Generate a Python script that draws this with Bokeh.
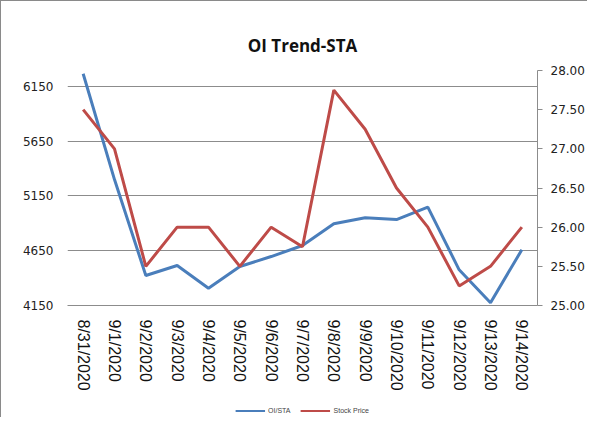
from bokeh.plotting import figure
from bokeh.layouts import column
from bokeh.models import Range1d, LinearAxis, FixedTicker, Legend, LegendItem, ColumnDataSource, NumeralTickFormatter
from bokeh.embed import file_html
from bokeh.resources import INLINE

dates = ["8/31/2020", "9/1/2020", "9/2/2020", "9/3/2020", "9/4/2020", "9/5/2020", "9/6/2020",
         "9/7/2020", "9/8/2020", "9/9/2020", "9/10/2020", "9/11/2020", "9/12/2020", "9/13/2020", "9/14/2020"]
oi_sta = [6266, 5300, 4424, 4515, 4308, 4506, 4597, 4698, 4896, 4951, 4935, 5048, 4476, 4175, 4659]
stock_price = [27.5, 27.0, 25.5, 26.0, 26.0, 25.5, 26.0, 25.75, 27.75, 27.25, 26.5, 26.0, 25.25, 25.5, 26.0]
left_ticks = [4150, 4650, 5150, 5650, 6150]
right_ticks = [25.0, 25.5, 26.0, 26.5, 27.0, 27.5, 28.0]
series_names = ["OI/STA", "Stock Price"]
series_colors = ["#4a7ebb", "#be4b48"]

src = ColumnDataSource(dict(d=dates, oi=oi_sta, px=stock_price))

p = figure(x_range=dates, y_range=Range1d(4150, 6296), frame_width=470, frame_height=235,
           output_backend="svg", toolbar_location=None,
           min_border_left=66, min_border_right=46, min_border_top=69, min_border_bottom=98)
p.outline_line_color = None
p.background_fill_color = "white"
p.border_fill_color = "white"

p.title.text = "OI Trend-STA"
p.title.align = "center"
p.title.text_font = "Open Sans"
p.title.text_font_style = "bold"
p.title.text_font_size = "17px"
p.title.text_color = "#111111"
p.title.standoff = 28

p.extra_y_ranges = {"price": Range1d(25, 28)}

# left axis
ya = p.yaxis[0]
ya.ticker = FixedTicker(ticks=left_ticks)
ya.axis_line_color = None
ya.major_tick_line_color = None
ya.minor_tick_line_color = None
ya.major_tick_out = 0
ya.major_tick_in = 0
ya.major_label_standoff = 14
ya.major_label_text_font = "DejaVu Sans"
ya.major_label_text_font_size = "12px"
ya.major_label_text_color = "#222222"

p.ygrid.ticker = FixedTicker(ticks=left_ticks)
p.ygrid.grid_line_color = "#8c8c8c"
p.xgrid.grid_line_color = None

# right axis
ra = LinearAxis(y_range_name="price", ticker=FixedTicker(ticks=right_ticks),
                formatter=NumeralTickFormatter(format="0.00"))
ra.axis_line_color = "#8c8c8c"
ra.major_tick_line_color = "#8c8c8c"
ra.major_tick_out = 5
ra.major_tick_in = 0
ra.minor_tick_line_color = None
ra.major_label_standoff = 8
ra.major_label_text_font = "DejaVu Sans"
ra.major_label_text_font_size = "12px"
ra.major_label_text_color = "#222222"
p.add_layout(ra, "right")

# x axis
xa = p.xaxis[0]
xa.axis_line_color = "#8c8c8c"
xa.major_tick_line_color = None
xa.major_tick_out = 0
xa.major_label_orientation = "vertical"
xa.major_label_standoff = 14
xa.major_label_text_font = "Liberation Sans"
xa.major_label_text_font_size = "16px"
xa.major_label_text_color = "#111111"

p.line("d", "oi", source=src, line_color=series_colors[0], line_width=3)
p.line("d", "px", source=src, line_color=series_colors[1], line_width=3, y_range_name="price")

# legend strip below the chart (its lines lie outside its own tiny view, only the legend shows)
p2 = figure(x_range=p.x_range, y_range=Range1d(0, 1), frame_width=470, frame_height=14,
            output_backend="svg", toolbar_location=None,
            x_axis_location=None, y_axis_location=None,
            min_border_left=66, min_border_right=46, min_border_top=0, min_border_bottom=0)
p2.outline_line_color = None
p2.grid.visible = False
p2.border_fill_color = "white"
l1 = p2.line("d", "oi", source=src, line_color=series_colors[0], line_width=2)
l2 = p2.line("d", "px", source=src, line_color=series_colors[1], line_width=2)
leg = Legend(items=[LegendItem(label=series_names[0], renderers=[l1]),
                    LegendItem(label=series_names[1], renderers=[l2])],
             orientation="horizontal", location="center")
leg.label_text_font_size = "7px"
leg.label_text_color = "#444444"
leg.label_text_font = "Liberation Sans"
leg.glyph_width = 30
leg.glyph_height = 6
leg.label_height = 6
leg.label_standoff = 3
leg.spacing = 10
leg.padding = 0
leg.margin = 0
leg.border_line_color = None
leg.background_fill_alpha = 0
p2.add_layout(leg, "center")

layout = column(p, p2, spacing=0,
                styles={"border-left": "1px solid #8a8a8a", "border-top": "1px solid #8a8a8a"})

open("out.html", "w").write(file_html(layout, INLINE))
